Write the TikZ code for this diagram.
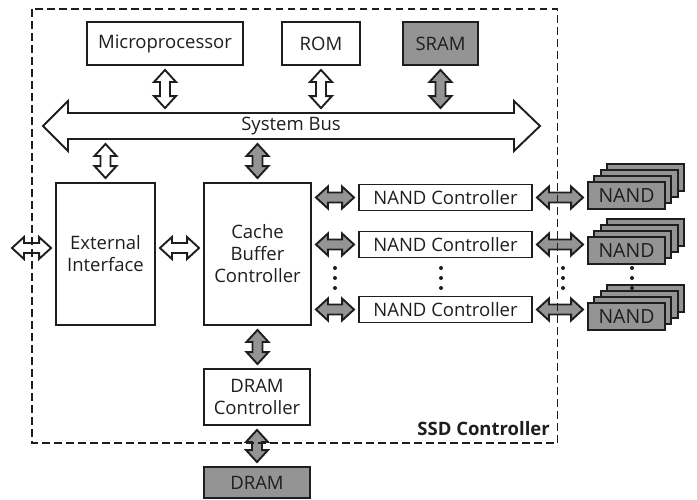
\documentclass[tikz,border=0pt]{standalone}
\usepackage{fontspec}
\setmainfont{Open Sans}
\usetikzlibrary{calc}
\definecolor{gfill}{RGB}{148,148,148}
\definecolor{ink}{RGB}{30,30,30}
\newcommand\ArHW{11pt}
\newcommand\ArSW{5pt}
\newcommand\ArHL{12pt}
\newcommand\ArGap{4pt}
% horizontal block double arrow: fill, left point, right point, point giving y
\newcommand\HArrow[4]{%
  \draw[blockarrow,fill=#1] let \p1=#2, \p2=#3, \p3=#4 in
   (\x1+\ArGap,\y3) -- (\x1+\ArGap+\ArHL,\y3+\ArHW) -- (\x1+\ArGap+\ArHL,\y3+\ArSW)
   -- (\x2-\ArGap-\ArHL,\y3+\ArSW) -- (\x2-\ArGap-\ArHL,\y3+\ArHW) -- (\x2-\ArGap,\y3)
   -- (\x2-\ArGap-\ArHL,\y3-\ArHW) -- (\x2-\ArGap-\ArHL,\y3-\ArSW)
   -- (\x1+\ArGap+\ArHL,\y3-\ArSW) -- (\x1+\ArGap+\ArHL,\y3-\ArHW) -- cycle;}
% vertical block double arrow: fill, top point, bottom point
\newcommand\VArrow[3]{%
  \draw[blockarrow,fill=#1] let \p1=#2, \p2=#3 in
   (\x1,\y1-\ArGap) -- (\x1+\ArHW,\y1-\ArGap-\ArHL) -- (\x1+\ArSW,\y1-\ArGap-\ArHL)
   -- (\x1+\ArSW,\y2+\ArGap+\ArHL) -- (\x1+\ArHW,\y2+\ArGap+\ArHL) -- (\x1,\y2+\ArGap)
   -- (\x1-\ArHW,\y2+\ArGap+\ArHL) -- (\x1-\ArSW,\y2+\ArGap+\ArHL)
   -- (\x1-\ArSW,\y1-\ArGap-\ArHL) -- (\x1-\ArHW,\y1-\ArGap-\ArHL) -- cycle;}
\tikzset{
  blockarrow/.style={draw=ink, line width=1.9pt, line join=miter},
  box/.style={draw=ink, line width=1.9pt, inner sep=0pt, text=ink,
              align=center, font=\fontsize{18.5}{22}\selectfont},
  graybox/.style={box, fill=gfill},
  nandlayer/.style={graybox, minimum width=77pt, minimum height=27pt},
  ssdframe/.style={draw=ink, line width=1.9pt, dash pattern=on 7.5pt off 4.5pt},
  dotmark/.style={fill=ink}
}
\begin{document}
\begin{tikzpicture}[x=1pt,y=-1pt]
\useasboundingbox (0,0) rectangle (697,499);

% top row
\node[box, minimum width=156, minimum height=43] (micro) at (165,43.5) {Microprocessor};
\node[box, minimum width=78, minimum height=43] (rom) at (321,43.5) {ROM};
\node[graybox, minimum width=75, minimum height=43] (sram) at (440.5,43.5) {SRAM};

% system bus
\draw[blockarrow, fill=white] (43,126) -- (68,101) -- (68,113) -- (514,113) -- (514,101)
  -- (540,126) -- (514,151) -- (514,139) -- (68,139) -- (68,151) -- cycle;
\node[box, draw=none, minimum width=446, minimum height=26] (bus) at (291,126) {System Bus};

% main blocks
\node[box, minimum width=99, minimum height=142] (ext) at (105.5,254) {External\\Interface};
\node[box, minimum width=107, minimum height=142] (cache) at (257.5,254) {Cache\\Buffer\\Controller};
\node[box, minimum width=173, minimum height=26] (nc1) at (445.5,197.5) {NAND Controller};
\node[box, minimum width=173, minimum height=26] (nc2) at (445.5,244.5) {NAND Controller};
\node[box, minimum width=173, minimum height=26] (nc3) at (445.5,309.5) {NAND Controller};
\node[box, minimum width=106, minimum height=56] (dramc) at (257,397) {DRAM\\Controller};
\node[graybox, minimum width=106, minimum height=31] (dram) at (257,482.5) {DRAM};

% NAND stacks
\coordinate (s1) at (626.5,195.5);
\coordinate (s2) at (626.5,250.5);
\coordinate (s3) at (626.5,316.5);
\foreach \s in {s1,s2,s3}{
  \foreach \k in {3,2,1}{
    \node[nandlayer] at ($(\s)+(\k*6.3,-\k*5.9)$) {};
  }
}
\node[nandlayer, font=\fontsize{19.5}{22}\selectfont] (nand1) at (s1) {NAND};
\node[nandlayer, font=\fontsize{19.5}{22}\selectfont] (nand2) at (s2) {NAND};
\node[nandlayer, font=\fontsize{19.5}{22}\selectfont] (nand3) at (s3) {NAND};

% arrows top row <-> bus
\VArrow{white}{(micro.south)}{(micro.south |- bus.north)}
\VArrow{white}{(rom.south)}{(rom.south |- bus.north)}
\VArrow{gfill}{(sram.south)}{(sram.south |- bus.north)}
% bus <-> blocks
\VArrow{white}{(bus.south -| ext.north)}{(ext.north)}
\VArrow{gfill}{(bus.south -| cache.north)}{(cache.north)}

% external
\coordinate (extin) at (8,248);
\HArrow{white}{(extin)}{(ext.west)}{(extin)}
\HArrow{white}{(ext.east)}{(cache.west)}{(extin)}

% cache <-> NAND controllers
\HArrow{gfill}{(cache.east)}{(nc1.west)}{(nc1.west)}
\HArrow{gfill}{(cache.east)}{(nc2.west)}{(nc2.west)}
\HArrow{gfill}{(cache.east)}{(nc3.west)}{(nc3.west)}
% NAND controllers <-> NAND
\HArrow{gfill}{(nc1.east)}{(nand1.west)}{(nc1.east)}
\HArrow{gfill}{(nc2.east)}{(nand2.west)}{(nc2.east)}
\HArrow{gfill}{(nc3.east)}{(nand3.west)}{(nc3.east)}

% cache <-> DRAM controller <-> DRAM
\VArrow{gfill}{(cache.south)}{(cache.south |- dramc.north)}
\VArrow{gfill}{(dramc.south)}{(dramc.south |- dram.north)}

% dots
\foreach \xx in {335,441,563,632}{
  \foreach \yy in {268,278,288}{
    \fill[dotmark] (\xx,\yy) circle (2pt);
  }
}

% SSD controller frame
\draw[ssdframe] (32,9) rectangle (557.5,443);
\node[anchor=east, inner sep=0pt, text=ink, font=\fontsize{18.5}{22}\selectfont\bfseries] (ssd) at (550,429) {SSD Controller};
\end{tikzpicture}
\end{document}
